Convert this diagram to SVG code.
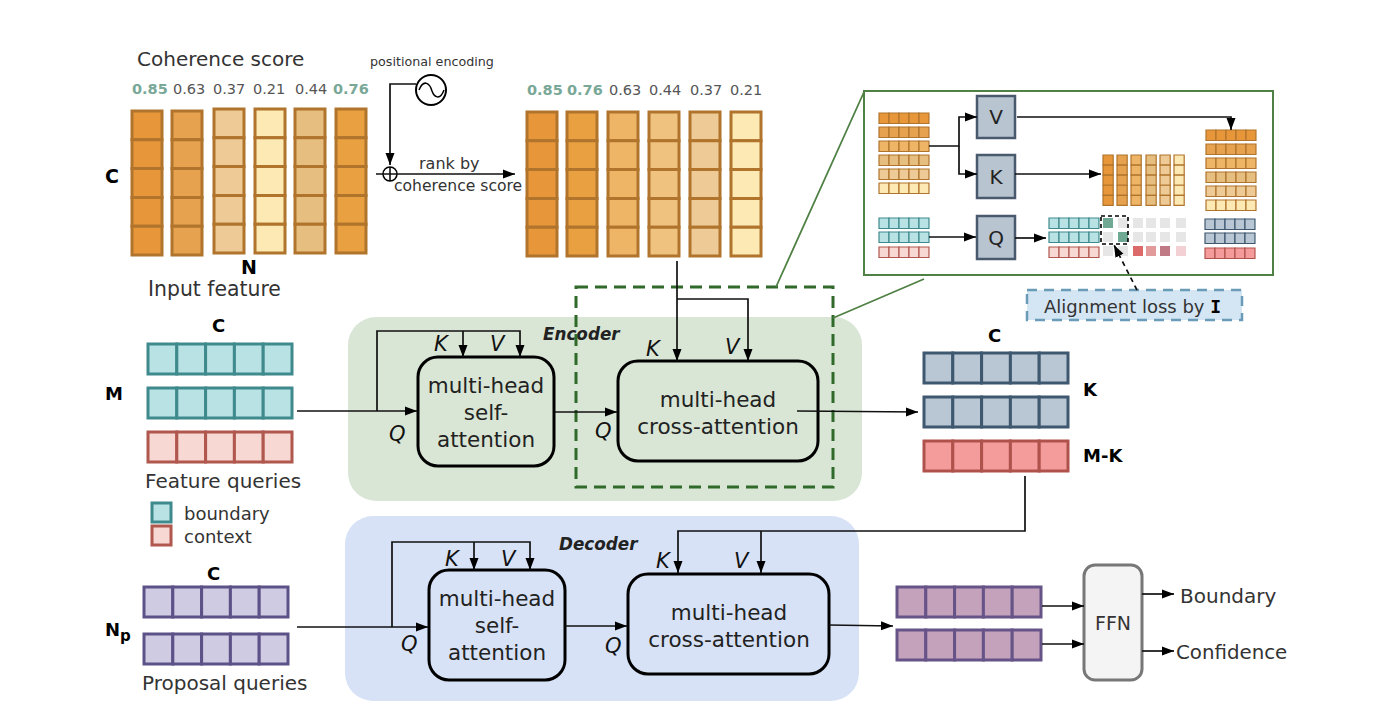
<svg xmlns="http://www.w3.org/2000/svg" width="1400" height="718" viewBox="0 0 1400 718">
<style>
text{font-family:"DejaVu Sans","Liberation Sans",sans-serif;fill:#333}
.b{font-weight:700;fill:#000}
.i{font-style:italic;fill:#111;font-size:21px}
.lbl{font-size:20px}
.box{font-size:21.5px;text-anchor:middle;fill:#222}
.sc{font-size:14.5px;fill:#555}
.sg{font-size:14.5px;font-weight:700;fill:#7aa898}
.blk{fill:none;stroke:#000;stroke-width:3}
.cell rect{vector-effect:non-scaling-stroke}
.ln{fill:none;stroke:#111;stroke-width:1.7}
.a{marker-end:url(#ah)}
use{stroke-width:3}
.mini use{stroke-width:1.2}
.o1{fill:#e8963a;stroke:#b0742c}
.o2{fill:#e6a24e;stroke:#b0742c}
.o3{fill:#edca96;stroke:#b0742c}
.o4{fill:#fce9b4;stroke:#b0742c}
.o5{fill:#e6bf80;stroke:#b0742c}
.o6{fill:#e8a040;stroke:#b0742c}
.o7{fill:#eeb566;stroke:#b0742c}
.o8{fill:#efc27f;stroke:#b0742c}
.teal{fill:#b9e2e4;stroke:#3f8a8c}
.red{fill:#f7d8d3;stroke:#b0574e}
.pur{fill:#cfcbe3;stroke:#5c5288}
.slate{fill:#b9c6d3;stroke:#3e5870}
.salm{fill:#f49c9c;stroke:#b0524c}
.mauve{fill:#c4a2bc;stroke:#665488}
.kvq{fill:#b8c4d0;stroke:#4a5a6e;stroke-width:2.5}
.g{fill:#e6e6e6}
</style>
<defs>
<marker id="ah" markerUnits="userSpaceOnUse" markerWidth="13" markerHeight="10" refX="12" refY="5" orient="auto"><path d="M0,0.5L12,5L0,9.5Z" fill="#000"/></marker>
<g id="r5" class="cell"><rect x="0" y="0" width="28.8" height="30"/><rect x="28.8" y="0" width="28.8" height="30"/><rect x="57.6" y="0" width="28.8" height="30"/><rect x="86.4" y="0" width="28.8" height="30"/><rect x="115.2" y="0" width="28.8" height="30"/></g>
<g id="c5" class="cell"><rect x="0" y="0" width="30" height="28.8"/><rect x="0" y="28.8" width="30" height="28.8"/><rect x="0" y="57.6" width="30" height="28.8"/><rect x="0" y="86.4" width="30" height="28.8"/><rect x="0" y="115.2" width="30" height="28.8"/></g>
</defs>

<g id="encoder-bg"><rect x="348" y="317" width="514" height="184" rx="28" fill="#d9e6d5"/></g>
<g id="decoder-bg"><rect x="345" y="516" width="514" height="185" rx="28" fill="#d7e2f6"/></g>

<g id="coherence-scores">
<text x="137" y="66" class="lbl">Coherence score</text>
<text x="132" y="94" class="sg">0.85</text><text x="173" y="94" class="sc">0.63</text><text x="213" y="94" class="sc">0.37</text><text x="253" y="94" class="sc">0.21</text><text x="295" y="94" class="sc">0.44</text><text x="333" y="94" class="sg">0.76</text>
<text x="527" y="95" class="sg">0.85</text><text x="567" y="95" class="sg">0.76</text><text x="609" y="95" class="sc">0.63</text><text x="649" y="95" class="sc">0.44</text><text x="690" y="95" class="sc">0.37</text><text x="730" y="95" class="sc">0.21</text>
</g>

<g id="input-feature">
<use href="#c5" class="o1" x="132" y="111"/><use href="#c5" class="o2" x="172" y="111"/><use href="#c5" class="o3" x="214" y="109"/><use href="#c5" class="o4" x="255" y="109"/><use href="#c5" class="o5" x="295" y="109"/><use href="#c5" class="o6" x="336" y="109"/>
<text x="105" y="183" class="b" style="font-size:19px">C</text>
<text x="241" y="274" class="b" style="font-size:19px">N</text>
<text x="148" y="296" class="lbl" style="font-size:20.4px">Input feature</text>
</g>

<g id="ranked-feature">
<use href="#c5" class="o1" x="527" y="112"/><use href="#c5" class="o6" x="567" y="112"/><use href="#c5" class="o7" x="608" y="112"/><use href="#c5" class="o8" x="649" y="112"/><use href="#c5" class="o3" x="690" y="112"/><use href="#c5" class="o4" x="731" y="112"/>
</g>

<g id="positional-encoding">
<text x="370" y="66" style="font-size:12.7px">positional encoding</text>
<circle cx="431" cy="90" r="15" fill="#fff" stroke="#000" stroke-width="2"/>
<path d="M419,90C424,78 430,84 432,91C434,97 440,101 444,90" fill="none" stroke="#000" stroke-width="1.5"/>
<circle cx="390" cy="174" r="7" fill="none" stroke="#000" stroke-width="1.5"/>
<path d="M390,167V181" stroke="#000" stroke-width="1.5"/>
<text x="419" y="169" style="font-size:16px">rank by</text>
<text x="394" y="191" style="font-size:15.6px">coherence score</text>
</g>

<g id="feature-queries">
<use href="#r5" class="teal" x="148" y="344"/><use href="#r5" class="teal" x="148" y="388"/><use href="#r5" class="red" x="148" y="432"/>
<text x="212" y="332" class="b" style="font-size:18px">C</text>
<text x="105" y="400" class="b" style="font-size:18px">M</text>
<text x="145" y="488" class="lbl">Feature queries</text>
<rect x="152" y="503" width="19" height="19" class="teal" stroke-width="3"/>
<rect x="152" y="526" width="19" height="19" class="red" stroke-width="3"/>
<text x="184" y="520" style="font-size:18px">boundary</text>
<text x="184" y="543" style="font-size:18px">context</text>
</g>

<g id="proposal-queries">
<use href="#r5" class="pur" x="144" y="587"/><use href="#r5" class="pur" x="144" y="634"/>
<text x="207" y="580" class="b" style="font-size:18px">C</text>
<text x="105" y="636" class="b" style="font-size:18px">N<tspan dy="5" style="font-size:15px">p</tspan></text>
<text x="142" y="690" class="lbl">Proposal queries</text>
</g>

<g id="encoder">
<text x="543" y="340" class="b" style="font-size:16.8px;font-style:italic;fill:#222">Encoder</text>
<rect x="418" y="357" width="136" height="109" rx="20" class="blk"/>
<text x="486" y="393" class="box">multi-head</text><text x="486" y="420" class="box">self-</text><text x="486" y="447" class="box">attention</text>
<text x="434" y="351" class="i">K</text><text x="490" y="351" class="i">V</text><text x="389" y="441" class="i">Q</text>
<rect x="618" y="361" width="200" height="100" rx="20" class="blk"/>
<text x="718" y="407" class="box">multi-head</text><text x="718" y="434" class="box">cross-attention</text>
<text x="646" y="356" class="i">K</text><text x="725" y="354" class="i">V</text><text x="595" y="438" class="i">Q</text>
<rect x="576" y="287" width="257" height="200" fill="none" stroke="#2f6a2a" stroke-width="3" stroke-dasharray="12 7"/>
</g>

<g id="decoder">
<text x="559" y="550" class="b" style="font-size:16.8px;font-style:italic;fill:#222">Decoder</text>
<rect x="429" y="570" width="136" height="110" rx="20" class="blk"/>
<text x="497" y="606" class="box">multi-head</text><text x="497" y="633" class="box">self-</text><text x="497" y="660" class="box">attention</text>
<text x="445" y="566" class="i">K</text><text x="501" y="566" class="i">V</text><text x="401" y="651" class="i">Q</text>
<rect x="628" y="574" width="201" height="100" rx="20" class="blk"/>
<text x="729" y="620" class="box">multi-head</text><text x="729" y="647" class="box">cross-attention</text>
<text x="656" y="568" class="i">K</text><text x="734" y="568" class="i">V</text><text x="605" y="653" class="i">Q</text>
</g>

<g id="encoder-output">
<use href="#r5" class="slate" x="924" y="353"/><use href="#r5" class="slate" x="924" y="397"/><use href="#r5" class="salm" x="924" y="441"/>
<text x="988" y="342" class="b" style="font-size:18px">C</text>
<text x="1083" y="396" class="b" style="font-size:18px">K</text>
<text x="1083" y="462" class="b" style="font-size:18px">M-K</text>
</g>

<g id="decoder-output">
<use href="#r5" class="mauve" x="897" y="587"/><use href="#r5" class="mauve" x="897" y="630"/>
</g>

<g id="ffn">
<rect x="1084" y="565" width="58" height="115" rx="11" fill="#f4f4f4" stroke="#777" stroke-width="3"/>
<text x="1113" y="630" text-anchor="middle" style="font-size:19px">FFN</text>
</g>
<g id="outputs">
<text x="1180" y="603" style="font-size:20px">Boundary</text>
<text x="1176" y="659" style="font-size:19.8px">Confidence</text>
</g>

<g id="inset">
<rect x="864" y="91" width="409" height="184" fill="#fff" stroke="#4f8044" stroke-width="2"/>
<g class="mini">
<use href="#r5" class="o1" transform="translate(879,113) scale(.347,.35)"/>
<use href="#r5" class="o2" transform="translate(879,127) scale(.347,.35)"/>
<use href="#r5" class="o7" transform="translate(879,141) scale(.347,.35)"/>
<use href="#r5" class="o5" transform="translate(879,155) scale(.347,.35)"/>
<use href="#r5" class="o3" transform="translate(879,169) scale(.347,.35)"/>
<use href="#r5" class="o4" transform="translate(879,183) scale(.347,.35)"/>
<use href="#r5" class="teal" transform="translate(879,218) scale(.347,.35)"/>
<use href="#r5" class="teal" transform="translate(879,232) scale(.347,.35)"/>
<use href="#r5" class="red" transform="translate(879,247) scale(.347,.35)"/>
<use href="#r5" class="teal" transform="translate(1049,218) scale(.347,.35)"/>
<use href="#r5" class="teal" transform="translate(1049,232) scale(.347,.35)"/>
<use href="#r5" class="red" transform="translate(1049,247) scale(.347,.35)"/>
<use href="#c5" class="o1" transform="translate(1103,155) scale(.34,.35)"/>
<use href="#c5" class="o2" transform="translate(1117,155) scale(.34,.35)"/>
<use href="#c5" class="o7" transform="translate(1131,155) scale(.34,.35)"/>
<use href="#c5" class="o5" transform="translate(1146,155) scale(.34,.35)"/>
<use href="#c5" class="o3" transform="translate(1160,155) scale(.34,.35)"/>
<use href="#c5" class="o4" transform="translate(1174,155) scale(.34,.35)"/>
<use href="#r5" class="o1" transform="translate(1206,130) scale(.347,.35)"/>
<use href="#r5" class="o2" transform="translate(1206,144) scale(.347,.35)"/>
<use href="#r5" class="o7" transform="translate(1206,158) scale(.347,.35)"/>
<use href="#r5" class="o5" transform="translate(1206,172) scale(.347,.35)"/>
<use href="#r5" class="o3" transform="translate(1206,186) scale(.347,.35)"/>
<use href="#r5" class="o4" transform="translate(1206,200) scale(.347,.35)"/>
<use href="#r5" class="slate" transform="translate(1205,219) scale(.347,.35)"/>
<use href="#r5" class="slate" transform="translate(1205,233) scale(.347,.35)"/>
<use href="#r5" class="salm" transform="translate(1205,248) scale(.347,.35)"/>
</g>
<rect x="977" y="96" width="38" height="42" class="kvq"/><text x="996" y="124" text-anchor="middle" style="font-size:20px;fill:#222">V</text>
<rect x="977" y="155" width="38" height="43" class="kvq"/><text x="996" y="184" text-anchor="middle" style="font-size:20px;fill:#222">K</text>
<rect x="977" y="216" width="38" height="43" class="kvq"/><text x="996" y="245" text-anchor="middle" style="font-size:20px;fill:#222">Q</text>
<g id="attention-grid">
<rect x="1103" y="218" width="10" height="10" fill="#6fa893"/><rect x="1118" y="218" width="10" height="10" class="g"/><rect x="1133" y="218" width="10" height="10" class="g"/><rect x="1146" y="218" width="10" height="10" class="g"/><rect x="1160" y="218" width="10" height="10" class="g"/><rect x="1176" y="218" width="10" height="10" class="g"/>
<rect x="1103" y="232" width="10" height="10" class="g"/><rect x="1118" y="232" width="10" height="10" fill="#6fa893"/><rect x="1133" y="232" width="10" height="10" class="g"/><rect x="1146" y="232" width="10" height="10" class="g"/><rect x="1160" y="232" width="10" height="10" class="g"/><rect x="1176" y="232" width="10" height="10" class="g"/>
<rect x="1103" y="246" width="10" height="10" class="g"/><rect x="1118" y="246" width="10" height="10" class="g"/><rect x="1133" y="246" width="10" height="10" fill="#dd6a6a"/><rect x="1146" y="246" width="10" height="10" fill="#e29a9a"/><rect x="1160" y="246" width="10" height="10" fill="#c07a85"/><rect x="1176" y="246" width="10" height="10" fill="#f3d0d4"/>
<rect x="1101" y="216" width="27" height="28" fill="none" stroke="#000" stroke-width="1.6" stroke-dasharray="4 3"/>
</g>
</g>

<g id="alignment-loss">
<rect x="1027" y="290" width="215" height="30" fill="#d4e6f3" stroke="#6a9cb8" stroke-width="2.5" stroke-dasharray="10 7"/>
<text x="1044" y="313" style="font-size:18px">Alignment loss by <tspan style="font-family:'DejaVu Sans Mono',monospace;font-weight:700;fill:#000">I</tspan></text>
</g>

<g id="connectors">
<path class="ln a" d="M416,84H390V165"/>
<path class="ln a" d="M376,174H515"/>
<path class="ln a" d="M677,261V361"/>
<path class="ln a" d="M677,299H748V361"/>
<path class="ln a" d="M297,411H417"/>
<path class="ln a" d="M377,411V331H520V357"/>
<path class="ln a" d="M463,331V357"/>
<path class="ln a" d="M555,412H617"/>
<path class="ln a" d="M797,411L918,412"/>
<path class="ln a" d="M297,627H428"/>
<path class="ln a" d="M392,627V542H530V570"/>
<path class="ln a" d="M474,542V570"/>
<path class="ln a" d="M565,626H627"/>
<path class="ln a" d="M1025,476V531H678V573"/>
<path class="ln a" d="M761,531V573"/>
<path class="ln a" d="M829,625L893,626"/>
<path class="ln a" d="M1042,606H1084"/>
<path class="ln a" d="M1042,644H1084"/>
<path class="ln a" d="M1142,594H1174"/>
<path class="ln a" d="M1142,651H1174"/>
<path class="ln a" d="M929,146H959V117H977"/>
<path class="ln a" d="M959,146V174H977"/>
<path class="ln a" d="M1017,117H1231V130"/>
<path class="ln a" d="M1015,174H1101"/>
<path class="ln a" d="M929,237H976"/>
<path class="ln a" d="M1015,238H1046"/>
<path class="ln a" d="M1137,290L1114,245" stroke-dasharray="5 4"/>
<path d="M776,287L864,92M833,318L924,279" fill="none" stroke="#4f8044" stroke-width="1.8"/>
</g>
</svg>
